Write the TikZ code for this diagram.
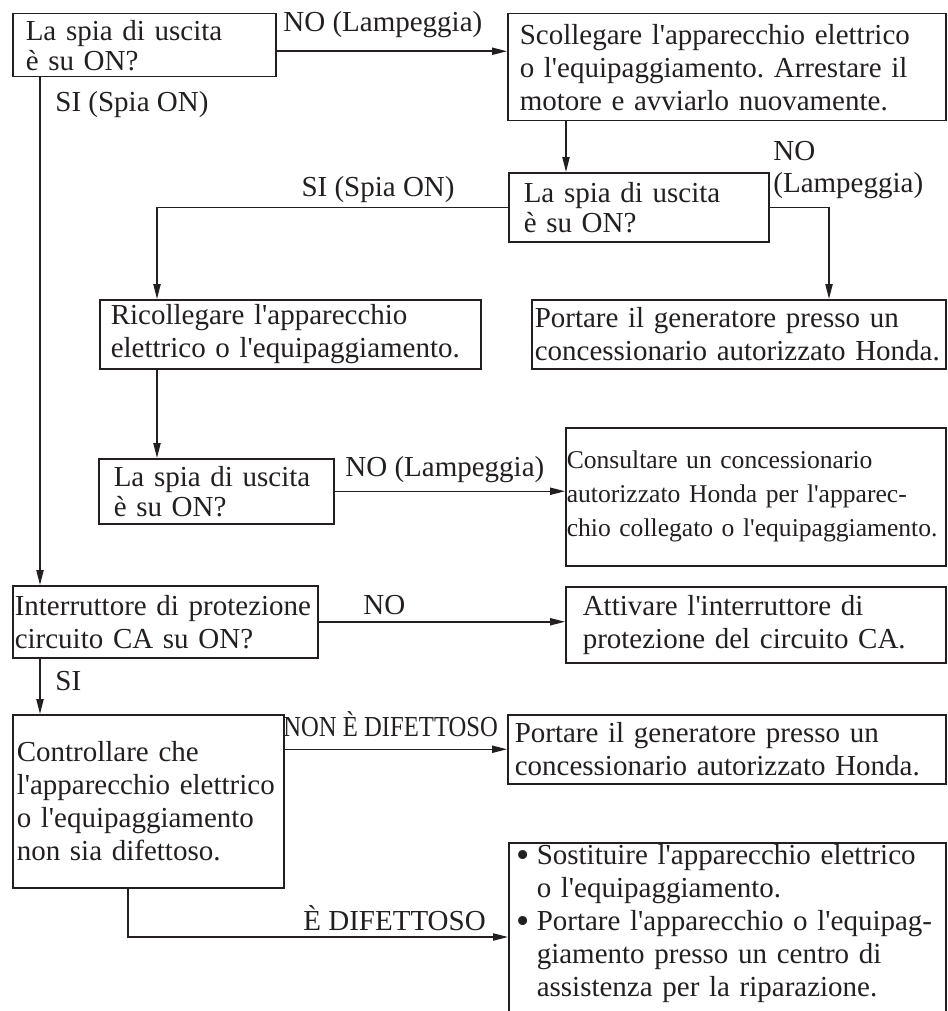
\documentclass[tikz,border=0pt]{standalone}
\usepackage{fontspec}
\setmainfont{Liberation Serif}[Ligatures=TeXOff]
\usetikzlibrary{arrows.meta, positioning, calc}
\definecolor{ink}{HTML}{231F20}
\newcommand{\flowfont}{\fontsize{14.5}{16.5}\selectfont\frenchspacing}
\newcommand{\tightfont}{\fontsize{14.5}{15}\selectfont\frenchspacing}
\newcommand{\smallflow}{\fontsize{12.8}{17}\selectfont\frenchspacing}
\newcommand{\bul}{\makebox[10pt][l]{\raisebox{-1.2pt}{\scalebox{1.3}{\textbullet}}}}
\tikzset{
  box/.style   = {draw=ink, line width=0.75pt, anchor=north west,
                  align=left, inner ysep=1pt, font=\flowfont, text=ink},
  tight/.style = {box, font=\tightfont},
  arr/.style   = {-{Triangle[length=7.5pt, width=3.6pt]}, line width=0.75pt, ink},
  labl/.style  = {font=\flowfont, text=ink, inner sep=0pt, anchor=base west},
}

\begin{document}
\begin{tikzpicture}[x=0.5pt, y=-0.5pt]
  \useasboundingbox (0,0) rectangle (947,1011);

  % first check
  \node[tight, text width=118.5pt, inner xsep=6.5pt, minimum height=31.5pt]
    (chk1) at (12,13) {La spia di uscita\\è su ON?};
  \node[box, text width=207pt, inner xsep=6pt, minimum height=53.5pt]
    (disc) at (507,13) {Scollegare l'apparecchio elettrico\\o l'equipaggiamento. Arrestare il\\motore e avviarlo nuovamente.};

  % second check
  \node[tight, text width=115pt, inner xsep=7.5pt, minimum height=34.5pt]
    (chk2) at (508,172) {La spia di uscita\\è su ON?};
  \node[box, text width=179.5pt, inner xsep=5.5pt, minimum height=34.5pt]
    (recon) at (99,299) {Ricollegare l'apparecchio\\elettrico o l'equipaggiamento.};
  \node[box, text width=204pt, inner xsep=1.5pt, minimum height=34.5pt]
    (deal1) at (531,299) {Portare il generatore presso un\\concessionario autorizzato Honda.};

  % third check
  \node[tight, text width=102.5pt, inner xsep=7.5pt, minimum height=32.5pt]
    (chk3) at (98,458) {La spia di uscita\\è su ON?};
  \node[box, font=\smallflow, text width=189pt, inner xsep=0.5pt, minimum height=69pt]
    (consult) at (565,427) {Consultare un concessionario\\autorizzato Honda per l'apparec-\\chio collegato o l'equipaggiamento.};

  % breaker
  \node[box, text width=150.5pt, inner xsep=1pt, minimum height=36pt]
    (brk) at (12,585) {Interruttore di protezione\\circuito CA su ON?};
  \node[box, text width=173pt, inner xsep=8.5pt, minimum height=38pt]
    (act) at (565,586) {Attivare l'interruttore di\\protezione del circuito CA.};

  % device check
  \node[box, text width=131.5pt, inner xsep=2pt, minimum height=86.5pt]
    (ctrl) at (12,714) {Controllare che\\l'apparecchio elettrico\\o l'equipaggiamento\\non sia difettoso.};
  \node[box, text width=212pt, inner xsep=3.5pt, minimum height=34.5pt]
    (deal2) at (507,714) {Portare il generatore presso un\\concessionario autorizzato Honda.};
  \node[box, text width=210.5pt, inner xsep=4pt, text depth=80pt]
    (fix) at (508,842) {\bul Sostituire l'apparecchio elettrico\\\hspace*{10pt}o l'equipaggiamento.\\\bul Portare l'apparecchio o l'equipag-\\\hspace*{10pt}giamento presso un centro di\\\hspace*{10pt}assistenza per la riparazione.};
  \coordinate (fixIn) at ([yshift=-47.5pt]fix.north west);

  % connectors
  \draw[arr] ([yshift=-3pt]chk1.east) -- ([yshift=-3pt]chk1.east -| disc.west);
  \draw[arr] ([xshift=14pt]chk1.south west) -- ([xshift=14pt]brk.north west);
  \draw[arr] ([xshift=29pt]chk2.north west |- disc.south) -- ([xshift=29pt]chk2.north west);
  \draw[arr] (chk2.east) -| ([xshift=149pt]deal1.north west);
  \draw[arr] (chk2.west) -| ([xshift=29pt]recon.north west);
  \draw[arr] ([xshift=29pt]recon.south west) -- ([xshift=29pt]recon.south west |- chk3.north);
  \draw[arr] (chk3.east) -- (chk3.east -| consult.west);
  \draw[arr] (brk.east) -- (brk.east -| act.west);
  \draw[arr] ([xshift=14pt]brk.south west) -- ([xshift=14pt]ctrl.north west);
  \draw[arr] (ctrl.east |- deal2.west) -- (deal2.west);
  \draw[arr] ([xshift=58pt]ctrl.south west) |- (fixIn);

  % answers
  \node[labl] (noA) at (283,32) {NO (Lampeggia)};
  \node[labl] (siA) at (55,112) {SI (Spia ON)};
  \node[labl, anchor=south west, align=left, font=\fontsize{14.5}{16}\selectfont]
    (noC) at (773,199) {NO\\(Lampeggia)};
  \node[labl, anchor=base east] (siC) at (455,196) {SI (Spia ON)};
  \node[labl] (noG) at (345,476) {NO (Lampeggia)};
  \node[labl] (noE) at (363,614) {NO};
  \node[labl] (siE) at (55,690) {SI};
  \node[labl] (okJ) at (283,736) {\scalebox{0.85}[1]{NON È DIFETTOSO}};
  \node[labl] (badJ) at (303,930) {È DIFETTOSO};

\end{tikzpicture}
\end{document}
